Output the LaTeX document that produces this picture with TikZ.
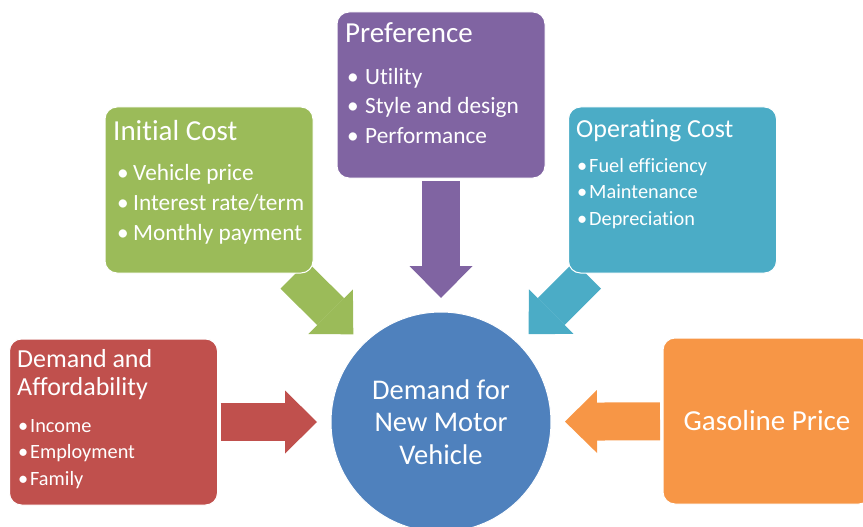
\documentclass[tikz,border=0pt]{standalone}
\usepackage{fontspec}
\setmainfont{Carlito}[Ligatures=NoCommon]
\usepackage{tikz}
\usetikzlibrary{arrows.meta, positioning, backgrounds}

\definecolor{costgreen}{HTML}{9BBB59}
\definecolor{prefpurple}{HTML}{8064A2}
\definecolor{opteal}{HTML}{4BACC6}
\definecolor{affordred}{HTML}{C0504D}
\definecolor{gasorange}{HTML}{F79646}
\definecolor{hubblue}{HTML}{4F81BD}

\begin{document}
\begin{tikzpicture}[
    x=1pt, y=-1pt,
    box/.style ={draw=white, line width=1pt, rounded corners=12pt, inner sep=0pt, outer sep=0pt,
                 minimum width=208pt, minimum height=166pt},
    hub/.style ={circle, fill=hubblue, draw=white, line width=1pt, inner sep=0pt, outer sep=0pt,
                 minimum size=220pt, text=white, align=center, font=\fontsize{28.5}{32.5}\selectfont},
    head/.style ={text=white, anchor=base west, inner sep=0pt, font=\fontsize{29}{32}\selectfont},
    shead/.style={text=white, anchor=base west, inner sep=0pt, font=\fontsize{26}{30}\selectfont},
    big/.style  ={text=white, anchor=base west, inner sep=0pt, font=\fontsize{23.3}{27}\selectfont},
    small/.style={text=white, anchor=base west, inner sep=0pt, font=\fontsize{20.3}{24}\selectfont},
    fat/.style  ={line width=38pt, -{Triangle[length=32pt, width=63pt, line width=0pt]},
                  shorten <=3pt, shorten >=14pt}
  ]
  \useasboundingbox (0,0) rectangle (863,527);
  \clip (0,0) rectangle (863,527);

  %% ---- centre and the five boxes ----------------------------------
  \node[hub] (demand) at (441,422) {Demand for\\New Motor\\Vehicle};
  \node[box, fill=affordred]  (afford)  at (113.5,422) {};
  \node[box, fill=costgreen]  (initial) at (209,190) {};
  \node[box, fill=prefpurple] (pref)    at (441,95) {};
  \node[box, fill=opteal]     (oper)    at (672.5,190) {};
  \node[box, fill=gasorange, text=white, font=\fontsize{29}{32}\selectfont]
        (gas) at (767,421) {Gasoline Price};

  %% ---- block arrows, kept under the boxes --------------------------
  \begin{scope}[on background layer]
    \draw[fat, affordred]  (afford)  -- (demand);
    \draw[fat, costgreen]  (initial) -- (demand);
    \draw[fat, prefpurple] (pref)    -- (demand);
    \draw[fat, opteal]     (oper)    -- (demand);
    \draw[fat, gasorange]  (gas)     -- (demand);
  \end{scope}

  %% ---- box texts ---------------------------------------------------
  \node[head] (initial-t) at (113,140) {Initial Cost};
  \foreach \t [count=\i] in {Vehicle price, Interest rate/term, Monthly payment}
    \node[big] (initial-\i) at (117,151+29.7*\i) {\makebox[16pt][l]{\textbullet}\t};

  \node[head] (pref-t) at (345,43) {Preference};
  \foreach \t [count=\i] in {Utility, Style and design, Performance}
    \node[big] (pref-\i) at (347,54.5+29.7*\i) {\makebox[18pt][l]{\textbullet}\t};

  \node[shead] (oper-t) at (576,137) {Operating Cost};
  \foreach \t [count=\i] in {Fuel efficiency, Maintenance, Depreciation}
    \node[small] (oper-\i) at (577,145.5+26.5*\i) {\makebox[12pt][l]{\textbullet}\t};

  \node[shead] (afford-t1) at (17,367) {Demand and};
  \node[shead] (afford-t2) at (17,395) {Affordability};
  \foreach \t [count=\i] in {Income, Employment, Family}
    \node[small] (afford-\i) at (18,405.5+26.5*\i) {\makebox[12pt][l]{\textbullet}\t};

\end{tikzpicture}
\end{document}
